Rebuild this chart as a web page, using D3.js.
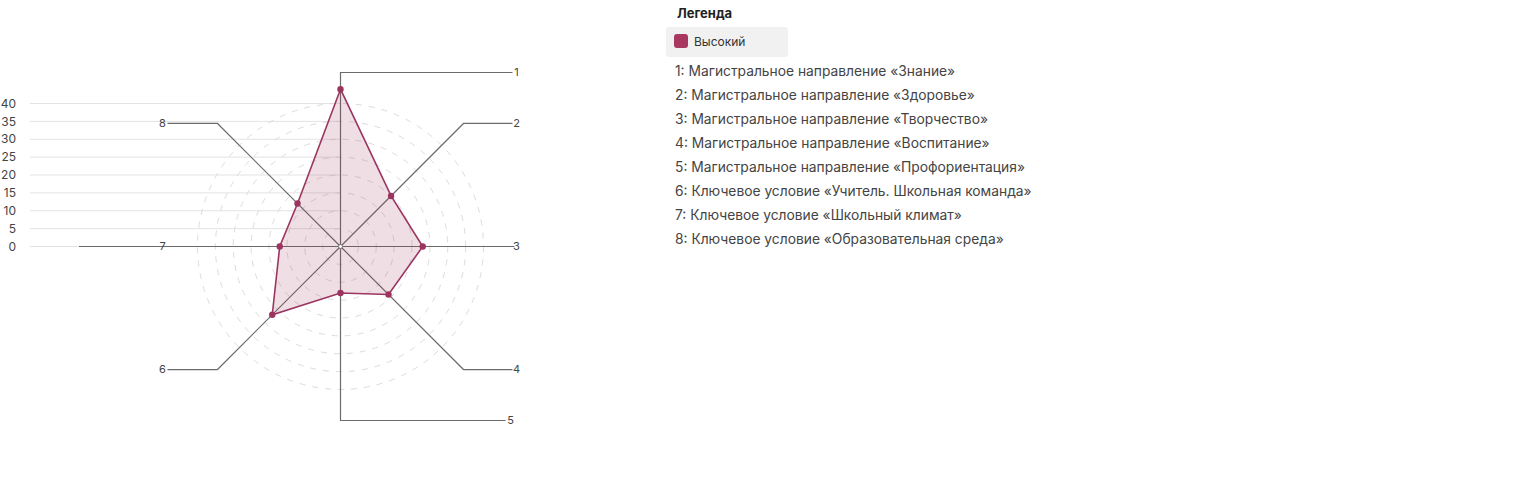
<!DOCTYPE html>
<html>
<head>
<meta charset="utf-8">
<script src="https://cdn.jsdelivr.net/npm/d3@7"></script>
<style>
  body { margin: 0; background: #fff; font-family: Inter, "Noto Sans", sans-serif; }
  svg { display: block; }
</style>
</head>
<body>
<svg id="chart" width="1536" height="500"></svg>
<script>
const axisKeys = ["1", "2", "3", "4", "5", "6", "7", "8"]
const axisNames = [
  "Магистральное направление «Знание»",
  "Магистральное направление «Здоровье»",
  "Магистральное направление «Творчество»",
  "Магистральное направление «Воспитание»",
  "Магистральное направление «Профориентация»",
  "Ключевое условие «Учитель. Школьная команда»",
  "Ключевое условие «Школьный климат»",
  "Ключевое условие «Образовательная среда»"
]
const seriesName = "Высокий"
const seriesValues = [44, 20, 23, 19, 13, 27, 17, 17]
const ticks = [0, 5, 10, 15, 20, 25, 30, 35, 40]

const svg = d3.select("#chart")
const cx = 340.5, cy = 246.5
const color = "#9b3560"

const r = d3.scaleLinear().domain([0, 40]).range([0, 143])
const angle = d3.scaleBand().domain(axisKeys).range([0, 2 * Math.PI]).align(0)
const ang = k => angle(k) - Math.PI / 2

// value gridlines on the left
const y = d3.scaleLinear().domain([0, 40]).range([cy, cy - r(40)])
const grid = svg.append("g")
grid.selectAll("line")
  .data(ticks)
  .join("line")
  .attr("x1", 30).attr("x2", cx)
  .attr("y1", d => y(d)).attr("y2", d => y(d))
  .attr("stroke", "#e3e3e3")
grid.selectAll("text")
  .data(ticks)
  .join("text")
  .attr("x", 16).attr("y", d => y(d))
  .attr("dy", "0.35em")
  .attr("text-anchor", "end")
  .attr("font-size", 12)
  .attr("fill", "#444")
  .text(d => d)

// dashed rings
svg.append("g")
  .selectAll("circle")
  .data(ticks.slice(1))
  .join("circle")
  .attr("cx", cx).attr("cy", cy)
  .attr("r", d => r(d))
  .attr("fill", "none")
  .attr("stroke", "#dcdcdc")
  .attr("stroke-dasharray", "6 7")

// spokes with elbow leaders
const spokeLen = 174
function spokePath(k, i) {
  const a = ang(k)
  const ex = cx + Math.cos(a) * spokeLen, ey = cy + Math.sin(a) * spokeLen
  const p = d3.path()
  p.moveTo(cx, cy)
  if (i === 6) { p.lineTo(79, cy); return p.toString() }
  if (i === 4) { p.lineTo(cx, cy + 174); p.lineTo(cx + 165, cy + 174); return p.toString() }
  p.lineTo(ex, ey)
  const left = Math.cos(a) < -0.01
  p.lineTo(left ? cx - 173 : cx + 172, ey)
  return p.toString()
}
function labelPos(k, i) {
  const a = ang(k)
  const ey = cy + Math.sin(a) * spokeLen
  if (i === 4) return [cx + 170, cy + 174]
  if (i === 6) return [cx - 178, cy]
  return [Math.cos(a) < -0.01 ? cx - 178 : cx + 176, ey]
}

const spokes = svg.append("g")
spokes.selectAll("path")
  .data(axisKeys)
  .join("path")
  .attr("d", (k, i) => spokePath(k, i))
  .attr("fill", "none")
  .attr("stroke", "#6b6b6b")
  .attr("stroke-width", 1.2)

// series polygon
const pts = axisKeys.map((k, i) => [cx + Math.cos(ang(k)) * r(seriesValues[i]), cy + Math.sin(ang(k)) * r(seriesValues[i])])
svg.append("path")
  .attr("d", d3.line().curve(d3.curveLinearClosed)(pts))
  .attr("fill", color)
  .attr("fill-opacity", 0.16)
  .attr("stroke", color)
  .attr("stroke-width", 1.6)

svg.append("g")
  .selectAll("circle")
  .data(pts)
  .join("circle")
  .attr("cx", d => d[0]).attr("cy", d => d[1])
  .attr("r", 3.2)
  .attr("fill", color)

svg.append("circle")
  .attr("cx", cx).attr("cy", cy).attr("r", 2)
  .attr("fill", "#fff").attr("stroke", "#777")

spokes.selectAll("text")
  .data(axisKeys)
  .join("text")
  .attr("x", (k, i) => labelPos(k, i)[0])
  .attr("y", (k, i) => labelPos(k, i)[1])
  .attr("dy", "0.35em")
  .attr("text-anchor", "middle")
  .attr("font-size", 11)
  .attr("fill", "#444")
  .text(k => k)

// legend
const lg = svg.append("g")
lg.append("text")
  .attr("x", 677).attr("y", 13).attr("dy", "0.35em")
  .attr("font-size", 13).attr("font-weight", 700).attr("fill", "#222")
  .text("Легенда")
lg.append("rect")
  .attr("x", 666).attr("y", 27).attr("width", 122).attr("height", 30).attr("rx", 3)
  .attr("fill", "#f1f1f1")
lg.append("rect")
  .attr("x", 674).attr("y", 34).attr("width", 14).attr("height", 14).attr("rx", 3)
  .attr("fill", "#a8385f")
lg.append("text")
  .attr("x", 694).attr("y", 41.5).attr("dy", "0.35em")
  .attr("font-size", 12).attr("fill", "#333")
  .text(seriesName)
lg.selectAll("text.item")
  .data(axisNames)
  .join("text")
  .attr("class", "item")
  .attr("x", 675).attr("y", (d, i) => 71 + i * 24).attr("dy", "0.35em")
  .attr("font-size", 13.8).attr("fill", "#444")
  .text((d, i) => axisKeys[i] + ": " + d)
</script>
</body>
</html>
